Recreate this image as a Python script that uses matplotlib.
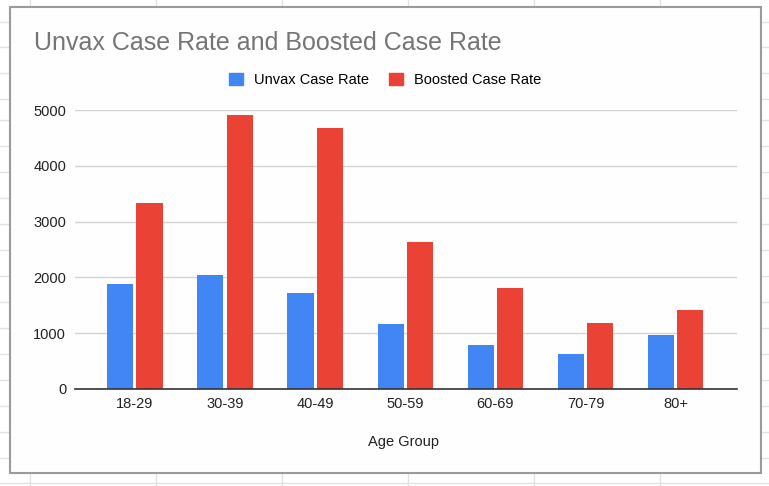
import matplotlib
matplotlib.use("Agg")
import matplotlib.pyplot as plt
from matplotlib.patches import Rectangle
import numpy as np

plt.rcParams['font.family'] = ['Liberation Sans', 'DejaVu Sans']

age_groups = ['18-29', '30-39', '40-49', '50-59', '60-69', '70-79', '80+']
unvax_rate = [1876, 2038, 1720, 1160, 783, 627, 962]
boosted_rate = [3328, 4905, 4672, 2640, 1810, 1183, 1410]
y_ticks = [0, 1000, 2000, 3000, 4000, 5000]

BLUE = '#4285F4'
RED = '#EA4335'
W, H = 769, 486

fig = plt.figure(figsize=(W / 100, H / 100), dpi=100)

# spreadsheet cells behind the chart (pixel coords)
bg = fig.add_axes([0, 0, 1, 1])
bg.set_xlim(0, W)
bg.set_ylim(H, 0)
bg.axis('off')
col_lines = [29.5, 155.5, 281.5, 407.5, 533.5, 659.5]
row_lines = [21.7, 47.3, 73.3, 99.3, 119.7, 145.7, 171.7, 197.7, 223.7, 249.7,
             275.7, 301.7, 327.7, 353.7, 379.7, 405.7, 431.7, 457.7, 483.3]
for x in col_lines:
    bg.axvline(x, color='#e2e2e2', lw=1)
for y in row_lines:
    bg.axhline(y, color='#e2e2e2', lw=1)
bg.add_patch(Rectangle((9.5, 7.5), 751, 465, facecolor='#fdfefd',
                       edgecolor='#9a9a9a', lw=1.5, zorder=3))

# main chart
left, right, top, bottom = 74.5, 737, 110, 389
ax = fig.add_axes([left / W, 1 - bottom / H, (right - left) / W, (bottom - top) / H])
ax.patch.set_alpha(0)
x = np.arange(len(age_groups))
off, bw = 0.162, 0.29
ax.bar(x - off, unvax_rate, bw, color=BLUE, zorder=3)
ax.bar(x + off, boosted_rate, bw, color=RED, zorder=3)

ax.set_xlim(-0.67, 6.68)
ax.set_ylim(0, 5000)
ax.set_yticks(y_ticks)
ax.set_xticks(x)
ax.set_xticklabels(age_groups)
ax.yaxis.grid(True, color='#d3d3d3', lw=1)
ax.set_axisbelow(True)
for s in ['top', 'right', 'left']:
    ax.spines[s].set_visible(False)
ax.spines['bottom'].set_color('#333333')
ax.spines['bottom'].set_linewidth(1.2)
ax.spines['bottom'].set_zorder(4)
ax.tick_params(axis='y', length=0, pad=6, labelsize=10.5, colors='#222222')
ax.tick_params(axis='x', length=0, pad=6, labelsize=10.5, colors='#222222')

fig.text(34 / W, 1 - 43 / H, 'Unvax Case Rate and Boosted Case Rate',
         ha='left', va='center', fontsize=18, color='#757575')
fig.text(404 / W, 1 - 442 / H, 'Age Group', ha='center', va='center',
         fontsize=10.5, color='#222222')

handles = [Rectangle((0, 0), 1, 1, color=BLUE), Rectangle((0, 0), 1, 1, color=RED)]
fig.legend(handles, ['Unvax Case Rate', 'Boosted Case Rate'], loc='center',
           bbox_to_anchor=(385 / W, 1 - 80 / H), ncol=2, frameon=False,
           fontsize=10.5, handlelength=0.96, handleheight=0.96,
           handletextpad=0.73, columnspacing=1.4, borderpad=0)

fig.savefig('out.png', dpi=100)
